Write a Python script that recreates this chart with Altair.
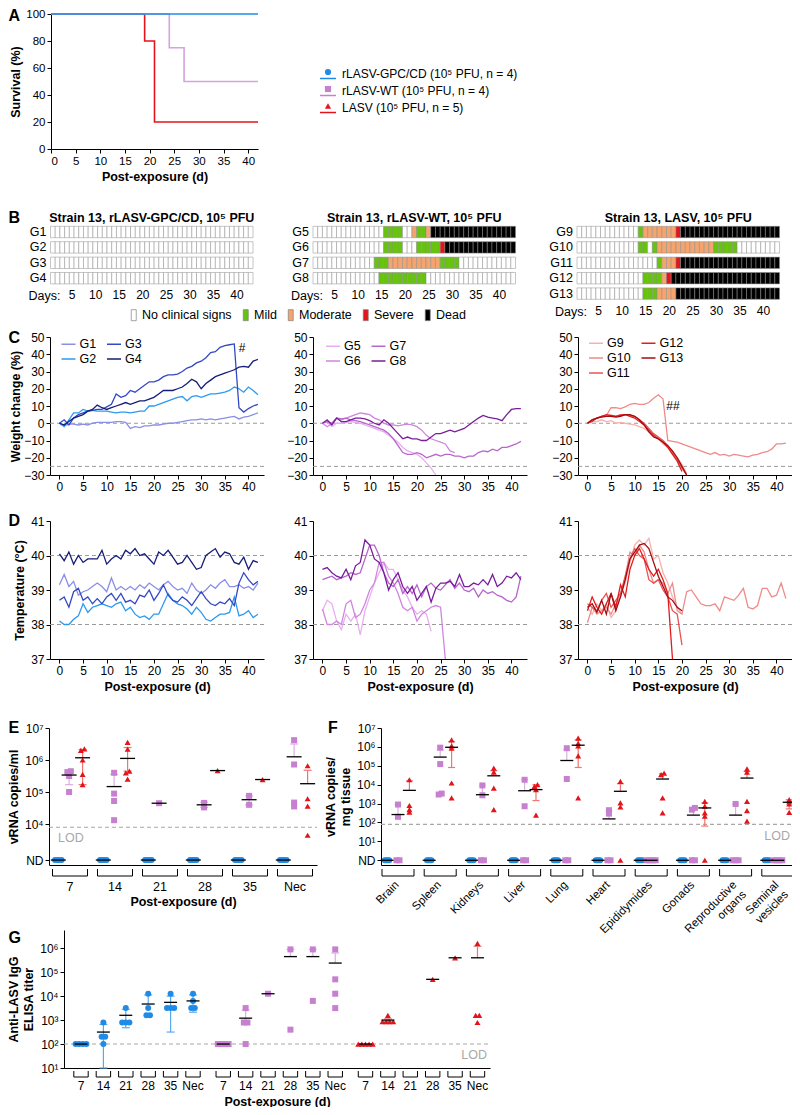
import altair as alt
import pandas as pd

OFF = 8
W, H = 784, 1099
FONT = "Liberation Sans"
SUP = {0: "⁰", 1: "¹", 2: "²", 3: "³", 4: "⁴", 5: "⁵", 6: "⁶", 7: "⁷"}

# ---------------- colours
C_GPC, C_WT, C_LASV = "#1f8be6", "#c77fd0", "#e4141b"
E_GPC, E_WT, E_LASV = "#5aa9ee", "#dcaee4", "#ef7474"
A_WT_LINE = "#d6a2df"

# ---------------- Panel A data
A_gpc_day = [0, 42]
A_gpc_surv = [100, 100]
A_wt_day = [0, 24, 27, 42]
A_wt_surv = [100, 75, 50, 50]
A_lasv_day = [0, 19, 21, 42]
A_lasv_surv = [100, 80, 20, 20]
A_legend = ["rLASV-GPC/CD (10⁵ PFU, n = 4)", "rLASV-WT (10⁵ PFU, n = 4)", "LASV (10⁵ PFU, n = 5)"]

# ---------------- Panel B data (run-length coded clinical scores, days 1-43)
STATUS = ["No clinical signs", "Mild", "Moderate", "Severe", "Dead"]
STATUS_CODE = {"N": "No clinical signs", "M": "Mild", "O": "Moderate", "S": "Severe", "D": "Dead"}
STATUS_COL = ["#ffffff", "#66c40c", "#f4a46e", "#e3151b", "#000000"]
B_runs = {
    "G1": "N43", "G2": "N43", "G3": "N43", "G4": "N43",
    "G5": "N15 M4 N2 O1 M2 O1 D18",
    "G6": "N15 M4 N3 M5 S1 D15",
    "G7": "N13 M3 O11 M4 N12",
    "G8": "N14 M10 N19",
    "G9": "N13 M1 O7 S1 D21",
    "G10": "N13 M2 N1 M1 O12 M5 N9",
    "G11": "N17 M1 O3 S1 D21",
    "G12": "N14 M4 O1 S1 D23",
    "G13": "N14 M3 O4 D22",
}
B_titles = ["Strain 13, rLASV-GPC/CD, 10⁵ PFU", "Strain 13, rLASV-WT, 10⁵ PFU", "Strain 13, LASV, 10⁵ PFU"]

# ---------------- Panel C data: weight change (%), one value per day from day 0
C_weight = {
    "G1": [0, -1.5, -0.5, -0.5, -1, -0.5, -1, 0, 0.5, 0.5, 0.5, 0.5, 1, 1, 0.5, -3, -2, -2.5, -1.5, -1.5,
           -1, -1, -0.5, 0, 0, 0.5, 1, 1.5, 2, 2, 2.5, 2, 2.5, 2, 2.5, 3, 3.5, 4, 2.5, 3.5, 4, 5, 6],
    "G2": [0, -2, 2, 6, 6, 8, 7, 7.5, 7, 7, 7, 6.5, 6, 6.5, 6.5, 6, 6.5, 7, 7, 10, 10, 11, 12, 13, 14, 15,
           15.5, 13, 15.5, 16, 15, 16, 17, 17, 17.5, 18, 19, 21, 20, 18, 21, 19, 16.5],
    "G3": [0, 2, -1, 3, 5, 6, 7, 7.5, 8, 8, 9.5, 11, 17, 15, 16, 19, 18, 20, 22, 24, 24, 25, 27, 28, 28,
           28.5, 30, 32, 33, 35, 36, 38, 41, 41.5, 44, 45, 45.5, 46, 9, 6.5, 8.5, 10, 11],
    "G4": [0, -1, 1, 3, 4, 5, 7, 8, 10.5, 9, 8, 9, 10, 11, 12, 11, 12, 13, 13, 14, 15, 17, 19, 19, 19, 20,
           21, 23, 25.5, 24, 20, 23, 25, 27, 28, 29, 30, 31, 32.5, 33, 32.5, 36, 37],
    "G5": [0, 1, -2, 0, 0, 0.5, 1, 0.5, 0, -1, -2, -3, -4, -5, -7, -9, -11, -14, -16, -17, -18, -20, -23,
           -26, -30],
    "G6": [0, -2, 0, 3, 2, 3, 4, 5, 6, 5.5, 5, 3, 2, 0, -1, -1, -1.5, -1, -0.5, -1, -2, -4, -7, -9, -10,
           -11, -12, -16, -17],
    "G7": [0, 1, 0, 3, 2.5, 3, 2, 1.5, 1, 0, -1, -2, -3, -4, -6, -9, -13, -17, -18, -18, -17, -18, -20,
           -19, -18, -19, -18, -18, -19, -19, -20, -19, -19, -17, -16, -16.5, -15, -16, -14, -14, -13, -12,
           -10.5],
    "G8": [0, 2, -1, 3, 1, 1, 2, 3, 3, 2.5, 1.5, 0, -1, 2, 0, -3, -6, -9, -8, -9, -9, -10, -10, -8, -6, -6,
           -5, -4, -5, -4, -3, -1, 1, 3, 4.5, 3.5, 3, 2.5, 1.5, 5, 8, 8.5, 8.5],
    "G9": [0, 1, 1, 2, 1, 1.5, 0, 0.5, 0, -0.5, -1, -2, -3, -5, -7, -9, -12, -14, -17, -20, -24, -29],
    "G10": [0, 2, 3, 4, 4.5, 9, 9, 8.5, 9.5, 11, 11.5, 11, 11, 12, 14.5, 16.5, 14, -10, -10.5, -11, -12,
            -13, -14, -15, -16, -17, -18, -17, -18.5, -18, -19, -18, -18.5, -19, -19.5, -18.5, -18, -17,
            -16.5, -15, -12, -12, -11.5],
    "G11": [0, 2, 3, 4, 4, 4.5, 4, 5, 5, 4.5, 4, 2, 0, -3, -6, -8, -10, -13, -17, -21, -26, -30],
    "G12": [0, 1, 3, 4, 5, 4.5, 4, 4.5, 5, 4, 3, 1, -1, -4, -7, -9, -11, -14, -18, -22, -28],
    "G13": [0, 2, 3, 3.5, 4, 4, 3.5, 4, 5, 5, 4, 2, -1, -5, -8, -9, -11, -13, -16, -20, -25, -30],
}

# ---------------- Panel D data: temperature (°C), one value per day from day 0
D_temp = {
    "G1": [39.15, 39.45, 39.1, 39.25, 38.85, 38.95, 39.0, 39.1, 39.2, 39.1, 38.95, 39.35, 39.0, 39.1, 39.0,
           39.1, 39.0, 39.15, 39.05, 39.2, 39.1, 39.0, 39.15, 39.25, 39.1, 39.0, 39.05, 38.9, 39.2, 39.0,
           38.9, 39.0, 39.15, 39.05, 39.2, 39.3, 39.1, 39.1, 39.15, 39.05, 39.1, 39.0, 39.2],
    "G2": [38.1, 38.0, 38.0, 38.15, 38.25, 38.6, 38.35, 38.5, 38.55, 38.6, 38.55, 38.5, 38.6, 38.65, 38.4,
           38.5, 38.3, 38.2, 38.25, 38.15, 38.3, 38.3, 38.6, 38.9, 38.7, 38.6, 38.55, 38.45, 38.3, 38.5,
           38.35, 38.15, 38.1, 38.2, 38.3, 38.3, 38.35, 38.8, 38.25, 38.3, 38.4, 38.2, 38.3],
    "G3": [38.7, 38.8, 38.5, 38.95, 39.05, 38.7, 38.8, 38.6, 38.75, 38.6, 38.8, 38.9, 38.7, 38.9, 38.65,
           38.7, 38.6, 38.85, 38.8, 39.0, 38.7, 38.9, 39.15, 38.85, 38.7, 38.65, 38.8, 38.7, 38.55, 38.75,
           38.95, 38.75, 38.6, 38.55, 38.65, 38.6, 38.75, 38.55, 39.2, 39.5, 39.3, 39.15, 39.25],
    "G4": [40.05, 39.85, 40.1, 39.75, 40.0, 39.8, 39.9, 39.9, 39.9, 40.15, 39.75, 39.9, 40.0, 39.9, 40.15,
           40.05, 40.2, 40.0, 40.05, 39.9, 39.75, 40.1, 40.0, 40.15, 39.95, 39.75, 39.8, 40.0, 39.8, 39.6,
           39.65, 40.0, 40.1, 40.2, 39.95, 40.1, 40.05, 39.8, 39.75, 39.95, 39.6, 39.85, 39.8],
    "G5": [38.4, 38.7, 38.6, 38.1, 37.85, 38.3, 38.1, 38.3, 37.7, 38.4, 38.8, 39.2, 39.5, 39.8, 39.6, 39.6,
           39.3, 39.0, 38.8, 38.5, 38.3, 38.4, 38.3, 37.8],
    "G6": [38.45, 38.0, 38.0, 38.1, 38.0, 38.6, 38.7, 38.2, 38.3, 38.6, 39.0, 39.2, 39.8, 39.8, 39.4, 39.2,
           38.9, 38.5, 38.4, 38.5, 38.1, 38.3, 38.4, 38.5, 38.55, 38.5, 37.0],
    "G7": [39.3, 39.35, 39.4, 39.3, 39.35, 39.4, 39.5, 39.45, 39.5, 39.9, 40.3, 40.3, 40.0, 39.5, 39.2,
           39.1, 39.3, 38.9, 39.1, 38.9, 39.15, 38.8, 39.1, 39.2, 39.05, 39.0, 39.15, 39.3, 39.05, 39.2,
           39.0, 38.95, 39.05, 38.8, 39.0, 38.9, 38.95, 38.85, 38.8, 38.7, 38.65, 38.8, 39.4],
    "G8": [39.6, 39.65, 39.5, 39.4, 39.35, 39.6, 39.3, 39.7, 39.8, 40.45, 40.3, 39.9, 39.8, 39.5, 39.0,
           39.3, 39.5, 39.1, 38.9, 39.1, 38.7, 38.9, 39.1, 38.65, 39.05, 39.2, 39.2, 39.25, 39.1, 39.45,
           39.1, 39.1, 39.2, 39.15, 39.3, 39.15, 39.45, 39.1, 39.2, 39.4, 39.35, 39.5, 39.3],
    "G9": [38.5, 38.3, 38.6, 38.4, 38.6, 38.2, 38.4, 38.9, 39.2, 39.8, 40.3, 40.45, 40.3, 40.5, 39.9, 40.0,
           39.5, 39.2, 38.8, 38.5, 38.3],
    "G10": [38.05, 38.5, 38.3, 38.4, 38.5, 38.3, 38.6, 38.8, 39.4, 40.1, 40.0, 40.3, 40.1, 39.6, 39.2,
            39.3, 39.2, 38.9, 39.2, 38.4, 38.3, 38.95, 39.0, 38.8, 38.6, 38.55, 38.55, 38.6, 38.4, 38.8,
            38.75, 38.7, 38.85, 39.05, 38.5, 38.45, 38.55, 39.05, 39.05, 38.8, 38.85, 39.2, 38.75],
    "G11": [38.6, 38.5, 38.4, 38.7, 38.9, 38.5, 38.7, 38.9, 39.4, 39.9, 40.2, 40.0, 39.9, 39.3, 39.2, 39.3,
            39.0, 38.8, 38.4, 38.3, 37.4],
    "G12": [38.4, 38.8, 38.5, 38.3, 38.6, 38.9, 38.5, 39.15, 38.8, 39.6, 40.0, 40.2, 39.9, 39.6, 39.4,
            39.6, 39.3, 38.9, 37.0],
    "G13": [38.5, 38.6, 38.35, 38.7, 38.3, 38.9, 38.4, 38.8, 39.3, 39.9, 40.1, 40.3, 40.35, 40.2, 39.8,
            39.4, 39.1, 38.8, 38.7, 38.5, 38.4],
}
LINE_COL = {
    "G1": "#8a8fe6", "G2": "#2b9af0", "G3": "#3348c4", "G4": "#151d78",
    "G5": "#e8aef0", "G6": "#cf86df", "G7": "#b866cc", "G8": "#7a1d9c",
    "G9": "#f6b1b1", "G10": "#f08a8a", "G11": "#e85555", "G12": "#e21b1b", "G13": "#a30d12",
}

# ---------------- Panel E data: log10 vRNA copies/ml
E_days = ["7", "14", "21", "28", "35", "Nec"]
E_ND, E_LOD = 2.875, 3.9
E_gpc_nd = [4, 4, 4, 4, 4, 4]
E_wt_pts = [[5.65, 5.62, 5.5, 5.0], [5.6, 4.95, 4.72, 4.12], [4.65], [4.66, 4.52], [4.88, 4.6],
            [6.62, 5.86, 4.67, 4.55]]
E_wt_mean = [5.53, 5.17, 4.65, 4.6, 4.76, 6.1]
E_wt_lo = [5.23, None, None, 4.52, 4.6, None]
E_wt_hi = [5.68, 5.55, None, 4.68, 4.88, 6.5]
E_lasv_pts = [[6.35, 6.3, 6.0, 5.55, 5.23], [6.55, 6.34, 5.65, 5.6, 5.4], [], [5.67], [5.39],
              [5.82, 4.79, 4.56, 3.65]]
E_lasv_mean = [6.07, 6.05, None, 5.67, 5.39, 5.26]
E_lasv_lo = [5.23, 5.65, None, None, None, None]
E_lasv_hi = [6.33, 6.39, None, None, None, 5.68]

# ---------------- Panel F data: log10 vRNA copies/mg tissue
F_tissues = ["Brain", "Spleen", "Kidneys", "Liver", "Lung", "Heart", "Epididymides", "Gonads",
             "Reproductive\norgans", "Seminal\nvesicles"]
F_LOD = 1.9
F_gpc_nd = [4] * 10
F_wt_pts = [[2.95, 2.3], [5.96, 5.09, 3.53, 3.48], [3.96, 3.44], [4.26, 2.86], [5.93, 4.3], [2.65, 2.47],
            [], [2.77, 2.68], [2.98], []]
F_wt_nd = [2, 0, 2, 2, 2, 2, 4, 2, 3, 4]
F_wt_mean = [2.42, 5.46, 3.47, 3.68, 5.28, 2.19, None, 2.39, 2.39, None]
F_wt_hi = [2.95, 5.84, 3.96, 4.26, 5.84, 2.62, None, 2.75, 2.98, None]
F_lasv_pts = [[4.26, 2.9, 2.68, 2.55], [6.37, 6.05, 5.93, 4.09, 3.3], [4.88, 4.67, 3.82, 2.68],
              [4.0, 3.91, 3.74, 2.39], [6.46, 6.19, 6.05, 5.53, 3.3], [4.18, 3.04, 2.82],
              [4.61, 4.53, 3.3, 2.51], [3.12, 2.86, 2.51, 2.33], [4.84, 4.67, 3.12, 2.63, 2.07],
              [3.21, 3.09, 2.98, 2.54]]
F_lasv_nd = [0, 0, 0, 0, 0, 1, 0, 1, 0, 0]
F_lasv_mean = [3.7, 5.98, 4.47, 3.74, 6.09, 3.65, 4.3, 2.77, 4.35, 3.07]
F_lasv_lo = [None, 4.91, None, 3.16, 4.91, None, None, 1.81, None, 2.72]
F_lasv_hi = [4.2, 6.28, 4.74, 4.0, 6.37, 4.05, 4.58, 3.04, 4.7, 3.2]

# ---------------- Panel G data: log10 anti-LASV IgG ELISA titer
G_days = ["7", "14", "21", "28", "35", "Nec"]
G_LOD = 2.0
G_gpc_pts = [[2, 2, 2, 2], [2.9, 2.3, 2.3, 2.0], [3.5, 2.9, 2.9, 2.9], [4.1, 3.5, 3.2, 3.2],
             [4.1, 3.5, 3.5, 3.5], [4.1, 3.8, 3.5, 3.5]]
G_gpc_mean = [2.0, 2.5, 3.2, 3.67, 3.74, 3.8]
G_gpc_lo = [None, 1.0, 2.68, None, 2.5, 3.33]
G_gpc_hi = [None, 2.82, 3.45, 4.05, 4.0, 4.05]
G_wt_pts = [[2, 2, 2, 2], [3.5, 2.9, 2.9, 2.0], [4.1], [5.95, 2.6], [5.95, 3.8], [5.95, 4.7, 4.1, 3.5]]
G_wt_mean = [2.0, 3.08, 4.1, 5.65, 5.65, 5.38]
G_wt_hi = [None, 3.42, None, 5.95, 5.95, 5.8]
G_lasv_pts = [[2, 2, 2, 2, 2], [3.2, 2.93, 2.93, 2.93, 2.93], [], [4.7], [5.6], [6.2, 3.2, 3.2, 2.9]]
G_lasv_mean = [2.0, 3.0, None, 4.7, 5.6, 5.6]
G_lasv_lo = [None, 2.93, None, None, None, None]
G_lasv_hi = [None, 3.05, None, None, None, 6.08]


# ====================================================================== helpers
def px(v):
    return v - OFF


def lin(domain, r0, r1):
    return alt.Scale(domain=domain, range=[px(r0), px(r1)], nice=False, zero=False)


def xax(bottom, **kw):
    kw.setdefault("title", None)
    return alt.Axis(orient="bottom", offset=px(bottom) - H, grid=False, **kw)


def yax(left, **kw):
    kw.setdefault("title", None)
    return alt.Axis(orient="left", offset=-px(left), grid=False, **kw)


def text_at(t, x, y, size=12.5, weight="normal", align="center", color="black"):
    return alt.Chart(pd.DataFrame({"t": [t]})).mark_text(
        align=align, baseline="middle", fontSize=size, fontWeight=weight, font=FONT, color=color
    ).encode(x=alt.value(px(x)), y=alt.value(px(y)), text="t:N")


def letter(t, y):
    return text_at(t, 8.5, y, 16, "bold", align="left")


def pow_expr(nd_thresh=None):
    e = "''"
    for k in range(8):
        e = f"(round(datum.value) == {k} ? '10{SUP[k]}' : {e})"
    if nd_thresh is not None:
        e = f"datum.value < {nd_thresh} ? 'ND' : {e}"
    return e


def spread(vals, tol, step):
    idx = sorted(range(len(vals)), key=lambda i: vals[i])
    clusters = []
    for i in idx:
        if clusters and abs(vals[i] - vals[clusters[-1][-1]]) <= tol:
            clusters[-1].append(i)
        else:
            clusters.append([i])
    offs = [0.0] * len(vals)
    for cl in clusters:
        k = len(cl)
        for j, i in enumerate(cl):
            offs[i] = (j - (k - 1) / 2.0) * step
    return offs


# ====================================================================== panel A
A_TOP = 14


def panel_A():
    xs = lin([0, 42], 51, 258)
    ys = lin([0, 100], 149, A_TOP)
    ax_x = xax(149, values=list(range(0, 41, 5)), title="Post-exposure (d)", labelFontSize=11.5)
    ax_y = yax(51, values=list(range(0, 101, 20)), title="Survival (%)", labelFontSize=11.5, titlePadding=3)
    layers = []
    series = [(A_lasv_day, A_lasv_surv, C_LASV), (A_wt_day, A_wt_surv, A_WT_LINE), (A_gpc_day, A_gpc_surv, C_GPC)]
    for d, s, col in series:
        layers.append(
            alt.Chart(pd.DataFrame({"day": d, "surv": s})).mark_line(
                interpolate="step-after", strokeWidth=1.6, color=col
            ).encode(x=alt.X("day:Q", scale=xs, axis=ax_x), y=alt.Y("surv:Q", scale=ys, axis=ax_y))
        )
    return alt.layer(*layers)


def panel_A_legend():
    keys = ["GPC", "WT", "LASV"]
    df = pd.DataFrame({"row": [0, 1, 2], "g": keys, "label": A_legend})
    ys = alt.Scale(domain=[0, 2], range=[px(74), px(108)], nice=False, zero=False)
    y = alt.Y("row:Q", scale=ys, axis=None)
    col = alt.Color("g:N", scale=alt.Scale(domain=keys, range=[C_GPC, C_WT, C_LASV]), legend=None)
    line = alt.Chart(df).mark_rule(strokeWidth=1.5, yOffset=4.5).encode(
        x=alt.value(px(320)), x2=alt.value(px(336)), y=y, color=col)
    pt = alt.Chart(df).mark_point(filled=True, size=38, opacity=1, yOffset=-2).encode(
        x=alt.value(px(328)), y=y, color=col,
        shape=alt.Shape("g:N", scale=alt.Scale(domain=keys, range=["circle", "square", "triangle-up"]), legend=None))
    tx = alt.Chart(df).mark_text(align="left", baseline="middle", fontSize=12, font=FONT).encode(
        x=alt.value(px(342)), y=y, text="label:N")
    return alt.layer(line, pt, tx)


# ====================================================================== panel B
B_CELL, B_TOP, B_PITCH = 4.71, 224.3, 15.4


def panel_B(names, left, title, legend):
    n = len(names)
    bottom = B_TOP + B_PITCH * n
    right = left + 43 * B_CELL
    rows = []
    for r, g in enumerate(names):
        codes = []
        for tok in B_runs[g].split():
            codes += [tok[0]] * int(tok[1:])
        for d, c in enumerate(codes, start=1):
            rows.append({"g": g, "r": r, "day": d, "st": STATUS_CODE[c]})
    df = pd.DataFrame(rows)
    df["x1"] = df["day"] - 0.5
    df["x2"] = df["day"] + 0.5
    df["y1"] = df["r"] - 0.37
    df["y2"] = df["r"] + 0.37
    xs = lin([0.5, 43.5], left, right)
    ys = alt.Scale(domain=[-0.5, n - 0.5], range=[px(B_TOP), px(bottom)], nice=False, zero=False)
    rect = alt.Chart(df).mark_rect(stroke="#8c8c8c", strokeWidth=0.5).encode(
        x=alt.X("x1:Q", scale=xs, axis=xax(bottom, values=list(range(5, 41, 5)), domain=False, ticks=False,
                                           labelPadding=4)),
        x2="x2:Q",
        y=alt.Y("y1:Q", scale=ys, axis=None),
        y2="y2:Q",
        color=alt.Color("st:N", scale=alt.Scale(domain=STATUS, range=STATUS_COL), legend=legend),
    )
    glab = alt.Chart(pd.DataFrame({"g": names, "r": list(range(n))})).mark_text(
        align="right", baseline="middle", fontSize=12.5, font=FONT
    ).encode(x=alt.value(px(left - 4)), y=alt.Y("r:Q", scale=ys, axis=None), text="g:N")
    return [alt.layer(rect, glab),
            text_at(title, (left + right) / 2, 218, 12.5, "bold"),
            text_at("Days:", left + 10, bottom + 10.5, 12.5, align="right")]


B_legend = alt.Legend(orient="none", legendX=px(127.5), legendY=px(308.5), direction="horizontal", title=None,
                      symbolType="M-1,-2.2H1V2.2H-1Z", symbolSize=25, symbolStrokeColor="#7f7f7f",
                      symbolStrokeWidth=0.7, labelFontSize=12.5, labelFont=FONT, columnPadding=7,
                      labelOffset=2, padding=0)


# ====================================================================== panels C, D
def panel_lines(data, order, left, ydom, ybot, ytop, yvals, refs, ytitle, xtitle, legend, tpad=4):
    right = left + 45.3 * 4.725
    rows = []
    for g in order:
        for d, v in enumerate(data[g]):
            rows.append({"g": g, "day": d, "val": v})
    df = pd.DataFrame(rows)
    xs = lin([-2, 43.3], left, right)
    ys = lin(ydom, ybot, ytop)
    ax_x = xax(ybot, values=list(range(0, 41, 5)), title=xtitle)
    ax_y = yax(left, values=yvals, title=ytitle, titlePadding=tpad)
    ref = alt.Chart(pd.DataFrame({"y": refs, "x": [-2] * len(refs), "x2": [43.3] * len(refs)})).mark_rule(
        strokeDash=[4, 3], color="#9a9a9a", strokeWidth=1
    ).encode(x=alt.X("x:Q", scale=xs, axis=ax_x), x2="x2:Q", y=alt.Y("y:Q", scale=ys, axis=ax_y))
    lines = alt.Chart(df).mark_line(strokeWidth=1.3).encode(
        x=alt.X("day:Q", scale=xs, axis=ax_x),
        y=alt.Y("val:Q", scale=ys, axis=ax_y),
        color=alt.Color("g:N", scale=alt.Scale(domain=order, range=[LINE_COL[g] for g in order]), legend=legend),
    )
    return alt.layer(ref, lines)


def line_legend(lx, ly):
    return alt.Legend(orient="none", legendX=px(lx), legendY=px(ly), columns=2, title=None, symbolType="stroke",
                      symbolStrokeWidth=1.5, symbolSize=196, labelFontSize=12.5, labelFont=FONT,
                      columnPadding=7.5, rowPadding=0, labelOffset=3, padding=0)


# ====================================================================== panels E, F, G
def scatter_layers(xs, ys, xaxis, yaxis, series, ppu, nd_val, mean_hw, cap_hw, xdom, lod):
    pts, errs, caps, means = [], [], [], []
    for s in series:
        for gi, cx in enumerate(s["x"]):
            det = list(s["pts"][gi])
            nd = s["nd"][gi]
            vals = det + [nd_val] * nd
            if not vals:
                continue
            for v, o in zip(vals, spread(vals, 0.1, s["step"])):
                pts.append({"s": s["key"], "x": cx + o / ppu, "y": v})
            m = s["mean"][gi]
            if m is None and not det and nd:
                m = nd_val
            if m is None:
                continue
            means.append({"x": cx - mean_hw / ppu, "x2": cx + mean_hw / ppu, "y": m})
            lo, hi = s["lo"][gi], s["hi"][gi]
            if lo is not None or hi is not None:
                errs.append({"s": s["key"], "x": cx, "y": m if lo is None else lo, "y2": m if hi is None else hi})
                for e in (lo, hi):
                    if e is not None:
                        caps.append({"s": s["key"], "x": cx - cap_hw / ppu, "x2": cx + cap_hw / ppu, "y": e})
    keys = [s["key"] for s in series]
    stroke = alt.Stroke("s:N", scale=alt.Scale(domain=keys, range=[s["ecolor"] for s in series]), legend=None)
    fill = alt.Color("s:N", scale=alt.Scale(domain=keys, range=[s["color"] for s in series]), legend=None)
    shape = alt.Shape("s:N", scale=alt.Scale(domain=keys, range=[s["shape"] for s in series]), legend=None)
    X = alt.X("x:Q", scale=xs, axis=xaxis)
    Y = alt.Y("y:Q", scale=ys, axis=yaxis)
    out = [
        alt.Chart(pd.DataFrame({"x": [xdom[0]], "x2": [xdom[1]], "y": [lod]})).mark_rule(
            color="#a8a8a8", strokeDash=[4, 3], strokeWidth=1.1
        ).encode(x=X, x2="x2:Q", y=Y),
        alt.Chart(pd.DataFrame(errs)).mark_rule(strokeWidth=1.2).encode(x=X, y=Y, y2="y2:Q", stroke=stroke),
        alt.Chart(pd.DataFrame(caps)).mark_rule(strokeWidth=1.2).encode(x=X, x2="x2:Q", y=Y, stroke=stroke),
        alt.Chart(pd.DataFrame(pts)).mark_point(filled=True, opacity=1, size=36).encode(
            x=X, y=Y, color=fill, shape=shape),
        alt.Chart(pd.DataFrame(means)).mark_rule(color="black", strokeWidth=1.3).encode(x=X, x2="x2:Q", y=Y),
    ]
    return out


def bracket_layers(xs, xaxis, centers, labels, hw, ppu, y_top, y_line, y_lab, rotated=False, size=12.5):
    df = pd.DataFrame({"c": centers, "l": labels})
    df["x"] = df["c"] - hw / ppu
    df["x2"] = df["c"] + hw / ppu
    X = alt.X("x:Q", scale=xs, axis=xaxis)
    out = [
        alt.Chart(df).mark_rule(color="black", strokeWidth=1).encode(x=X, x2="x2:Q", y=alt.value(px(y_line))),
        alt.Chart(df).mark_rule(color="black", strokeWidth=1).encode(
            x=X, y=alt.value(px(y_top)), y2=alt.value(px(y_line))),
        alt.Chart(df).mark_rule(color="black", strokeWidth=1).encode(
            x=alt.X("x2:Q", scale=xs, axis=xaxis), y=alt.value(px(y_top)), y2=alt.value(px(y_line))),
    ]
    if rotated:
        df2 = df.copy()
        df2["x"] = df2["c"] + 3 / ppu
        out.append(alt.Chart(df2).mark_text(align="right", baseline="bottom", angle=315, fontSize=size, font=FONT,
                                            lineBreak="\n").encode(x=X, y=alt.value(px(y_lab)), text="l:N"))
    else:
        df2 = df.copy()
        df2["x"] = df2["c"]
        out.append(alt.Chart(df2).mark_text(align="center", baseline="middle", fontSize=size, font=FONT).encode(
            x=X, y=alt.value(px(y_lab)), text="l:N"))
    return out


def panel_E():
    ppu = 45.0
    xdom = [(49 - 70) / ppu, (317 - 70) / ppu]
    xs = lin(xdom, 49, 317)
    ys = lin([2.72, 7], 865, 728)
    idx = list(range(6))
    series = [
        dict(key="GPC", x=[i - 0.26 for i in idx], pts=[[]] * 6, nd=E_gpc_nd, mean=[None] * 6, lo=[None] * 6,
             hi=[None] * 6, color=C_GPC, ecolor=E_GPC, shape="circle", step=2.2),
        dict(key="WT", x=[i - 0.02 for i in idx], pts=E_wt_pts, nd=[0] * 6, mean=E_wt_mean, lo=E_wt_lo,
             hi=E_wt_hi, color=C_WT, ecolor=E_WT, shape="square", step=3.5),
        dict(key="LASV", x=[i + 0.28 for i in idx], pts=E_lasv_pts, nd=[0] * 6, mean=E_lasv_mean, lo=E_lasv_lo,
             hi=E_lasv_hi, color=C_LASV, ecolor=E_LASV, shape="triangle-up", step=3.5),
    ]
    xaxis = xax(865, labels=False, ticks=False, title="Post-exposure (d)", titlePadding=30)
    yaxis = yax(49, values=[E_ND, 4, 5, 6, 7], labelExpr=pow_expr(3.5), title="vRNA copies/ml")
    lay = scatter_layers(xs, ys, xaxis, yaxis, series, ppu, E_ND, 7.5, 4, xdom, E_LOD)
    lay += bracket_layers(xs, xaxis, idx, E_days, 17.5, ppu, 869, 876, 887)
    return alt.layer(*lay)


def panel_F():
    ppu = 42.2
    xdom = [(381 - 398) / ppu, (792 - 398) / ppu]
    xs = lin(xdom, 381, 792)
    ys = lin([-0.25, 7], 865, 728)
    idx = list(range(10))
    series = [
        dict(key="GPC", x=[i - 0.26 for i in idx], pts=[[]] * 10, nd=F_gpc_nd, mean=[None] * 10, lo=[None] * 10,
             hi=[None] * 10, color=C_GPC, ecolor=E_GPC, shape="circle", step=1.5),
        dict(key="WT", x=[i for i in idx], pts=F_wt_pts, nd=F_wt_nd, mean=F_wt_mean, lo=[None] * 10,
             hi=F_wt_hi, color=C_WT, ecolor=E_WT, shape="square", step=3),
        dict(key="LASV", x=[i + 0.27 for i in idx], pts=F_lasv_pts, nd=F_lasv_nd, mean=F_lasv_mean, lo=F_lasv_lo,
             hi=F_lasv_hi, color=C_LASV, ecolor=E_LASV, shape="triangle-up", step=3),
    ]
    xaxis = xax(865, labels=False, ticks=False)
    yaxis = yax(381, values=list(range(8)), labelExpr=pow_expr(0.5), title=["vRNA copies/", "mg tissue"])
    lay = scatter_layers(xs, ys, xaxis, yaxis, series, ppu, 0.0, 6.5, 3.5, xdom, F_LOD)
    lay += bracket_layers(xs, xaxis, idx, F_tissues, 16, ppu, 869, 876, 887, rotated=True, size=11.5)
    return alt.layer(*lay)


G_BOT = 1068


def panel_G():
    ppu = 22.4
    xdom = [(64 - 81) / ppu, (490 - 81) / ppu]
    xs = lin(xdom, 64, 490)
    ys = lin([1, 6.76], G_BOT, G_BOT - 138)
    idx = list(range(6))
    gap = 6.35
    series = [
        dict(key="GPC", x=[i for i in idx], pts=G_gpc_pts, nd=[0] * 6, mean=G_gpc_mean, lo=G_gpc_lo,
             hi=G_gpc_hi, color=C_GPC, ecolor=E_GPC, shape="circle", step=3.6),
        dict(key="WT", x=[gap + i for i in idx], pts=G_wt_pts, nd=[0] * 6, mean=G_wt_mean, lo=[None] * 6,
             hi=G_wt_hi, color=C_WT, ecolor=E_WT, shape="square", step=3.6),
        dict(key="LASV", x=[2 * gap + i for i in idx], pts=G_lasv_pts, nd=[0] * 6, mean=G_lasv_mean, lo=G_lasv_lo,
             hi=G_lasv_hi, color=C_LASV, ecolor=E_LASV, shape="triangle-up", step=3.6),
    ]
    xaxis = xax(G_BOT, labels=False, ticks=False, title="Post-exposure (d)", titlePadding=27)
    yaxis = yax(64, values=[1, 2, 3, 4, 5, 6], labelExpr=pow_expr(), title=["Anti-LASV IgG", "ELISA titer"])
    lay = scatter_layers(xs, ys, xaxis, yaxis, series, ppu, 1.0, 6.5, 4, xdom, G_LOD)
    centers = [b * gap + i for b in range(3) for i in idx]
    lay += bracket_layers(xs, xaxis, centers, G_days * 3, 7.2, ppu, G_BOT + 3, G_BOT + 9, G_BOT + 17.5,
                          size=12)
    return alt.layer(*lay)


# ====================================================================== assemble
layers = [panel_A(), panel_A_legend(), letter("A", 16)]

B_names = [["G1", "G2", "G3", "G4"], ["G5", "G6", "G7", "G8"], ["G9", "G10", "G11", "G12", "G13"]]
B_left = [50.5, 313, 577]
for k in range(3):
    layers += panel_B(B_names[k], B_left[k], B_titles[k], B_legend if k == 0 else None)
layers.append(letter("B", 218))

col_left = [50, 313, 578]
C_orders = [["G1", "G2", "G3", "G4"], ["G5", "G6", "G7", "G8"], ["G9", "G10", "G11", "G12", "G13"]]
C_leg = [line_legend(60.5, 336), line_legend(325, 338), line_legend(588, 335)]
for k in range(3):
    layers.append(panel_lines(C_weight, C_orders[k], col_left[k], [-30, 50], 475, 337, list(range(-30, 51, 10)),
                              [0, -25], "Weight change (%)" if k == 0 else None, None, C_leg[k], tpad=1))
layers += [letter("C", 338), text_at("#", 242, 348, 12), text_at("##", 673, 406, 12)]

for k in range(3):
    layers.append(panel_lines(D_temp, C_orders[k], col_left[k], [37, 41], 659, 521, [37, 38, 39, 40, 41],
                              [38, 40], "Temperature (°C)" if k == 0 else None, "Post-exposure (d)", None, tpad=4))
layers.append(letter("D", 521))

layers += [panel_E(), letter("E", 728), text_at("LOD", 58, 838, 12.5, color="#a8a8a8", align="left")]
layers += [panel_F(), text_at("F", 333, 728, 16, "bold"), text_at("LOD", 790, 836, 12.5, color="#a8a8a8", align="right")]
layers += [panel_G(), letter("G", 938),
           text_at("LOD", 487, G_BOT - 13, 12.5, color="#a8a8a8", align="right")]

chart = alt.layer(*layers).resolve_scale(
    x="independent", y="independent", color="independent", shape="independent", stroke="independent"
).properties(width=W, height=H, autosize=alt.AutoSizeParams(type="none"), padding=0)

chart = chart.configure_view(strokeWidth=0).configure_axis(
    labelFont=FONT, titleFont=FONT, labelFontSize=12, titleFontSize=12.5, titleFontWeight="bold",
    labelColor="black", titleColor="black", domainColor="black", tickColor="black", tickSize=4,
    domainWidth=1, tickWidth=1, labelPadding=2, grid=False
).configure_legend(labelFont=FONT, padding=0)

chart.save("out.html", embed_options={"renderer": "svg", "actions": False})
